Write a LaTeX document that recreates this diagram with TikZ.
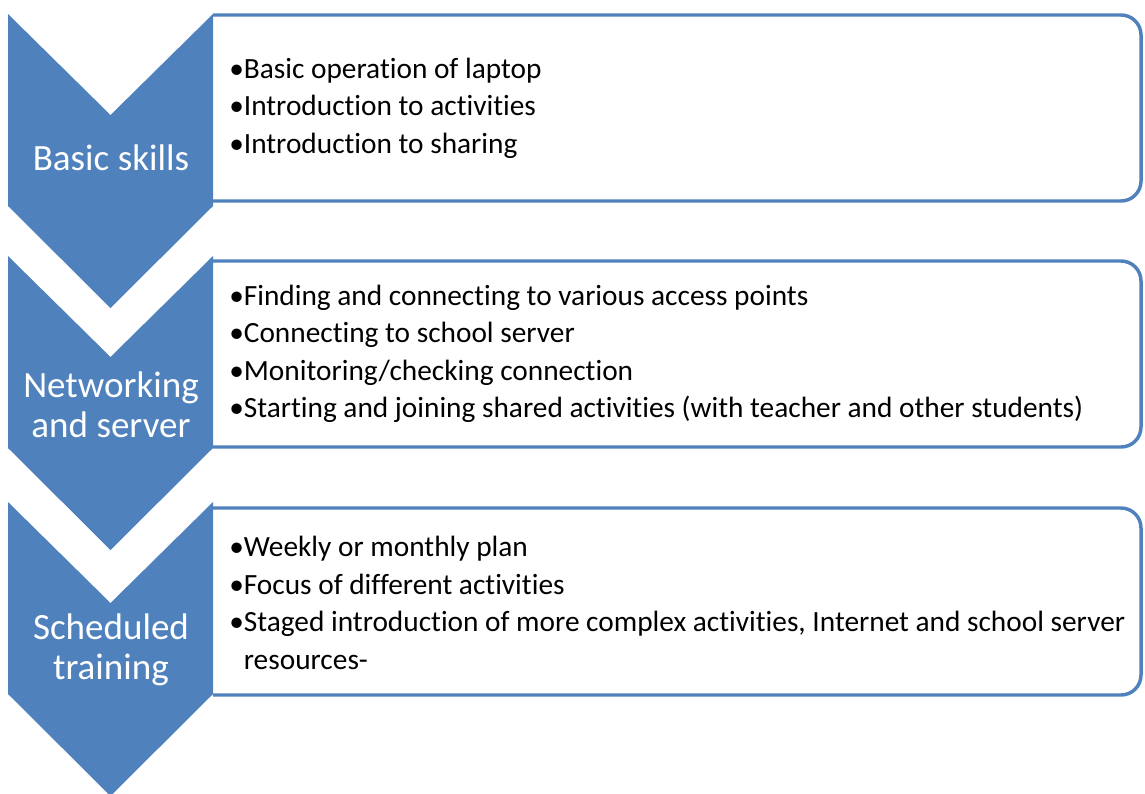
\documentclass[tikz,border=0pt]{standalone}
\usepackage{fontspec}
\setmainfont{Carlito}[Ligatures=NoCommon]
\definecolor{chevblue}{RGB}{79,129,189}
\tikzset{
  chev-fill/.style={fill=chevblue},
  list-box/.style={
    draw=chevblue,
    line width=2.6pt,
    fill=white,
    rounded corners=15pt
  },
  chev-label/.style={text=white, align=center, inner sep=0pt, font=\fontsize{27.8}{30}\selectfont},
  list-text/.style={anchor=west, align=left, inner sep=0pt, font=\fontsize{22}{28.1}\selectfont}
}
% #1 = top edge of the chevron
\newcommand{\stagechevron}[1]{
  \fill[chev-fill] (8,#1) -- (110.5,#1+101) -- (213,#1) -- (213,#1+192)
    -- (110.5,#1+294) -- (8,#1+192) -- cycle;
}
% #1 = top, #2 = bottom of the list box
\newcommand{\stagebox}[2]{
  \draw[list-box] (213,#1) -- (1141,#1) -- (1141,#2) -- (213,#2);
}

\begin{document}
\begin{tikzpicture}[x=0.75pt,y=-0.75pt]
  \useasboundingbox (0,0) rectangle (1145,793);
  % Basic skills
  \stagebox{15}{201}
  \stagechevron{14}
  \node[chev-label] (lbl1) at (111,158) {Basic skills};
  \node[list-text] (items1) at (229,108) {•Basic operation of laptop\\•Introduction to activities\\•Introduction to sharing};
  % Networking and server
  \stagebox{261}{447}
  \stagechevron{256}
  \node[chev-label] (lbl2) at (111,405) {Networking\\and server};
  \node[list-text] (items2) at (229,354) {•Finding and connecting to various access points\\•Connecting to school server\\•Monitoring/checking connection\\•Starting and joining shared activities (with teacher and other students)};
  % Scheduled training
  \stagebox{508}{695}
  \stagechevron{502}
  \node[chev-label] (lbl3) at (111,650) {Scheduled\\training};
  \node[list-text] (items3) at (229,603) {•Weekly or monthly plan\\•Focus of different activities\\•Staged introduction of more complex activities, Internet and school server\\\hphantom{•}resources-};
\end{tikzpicture}
\end{document}
